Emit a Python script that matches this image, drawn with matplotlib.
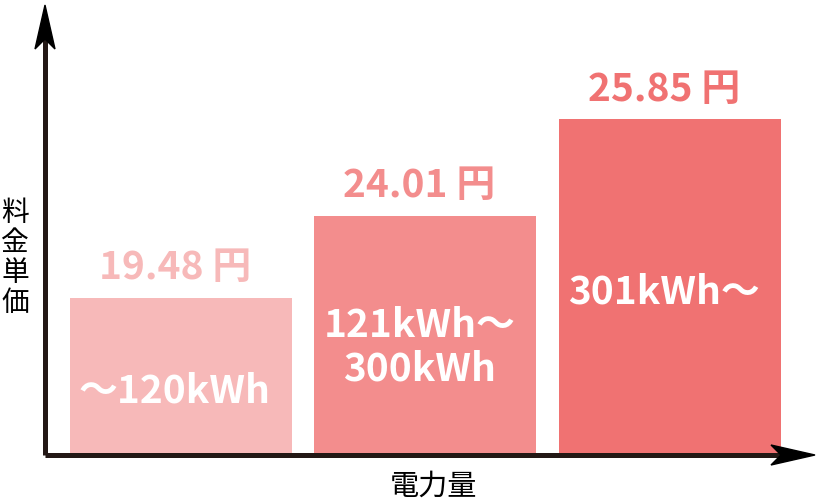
import matplotlib
matplotlib.use("Agg")
import matplotlib.pyplot as plt
from matplotlib.patches import Polygon

plt.rcParams['font.family'] = ['Noto Sans CJK JP', 'DejaVu Sans']

# Data
categories = ["〜120kWh", "121kWh〜\n300kWh", "301kWh〜"]
prices = [19.48, 24.01, 25.85]          # 円 per kWh
bar_heights = [157, 239, 336]           # displayed heights (chart not to scale)
label_frac = [0.41, 0.45, 0.485]        # inner label vertical position (fraction of bar)
colors = ["#F7B9B9", "#F38D8D", "#F07272"]
axis_color = "#231815"
y_label = "料金単価"
x_label = "電力量"

W, H = 828, 501
fig = plt.figure(figsize=(W / 100, H / 100), dpi=100)
ax_l, ax_r, ax_b, ax_t = 45, 815, 455, 5
ax = fig.add_axes([ax_l / W, (H - ax_b) / H, (ax_r - ax_l) / W, (ax_b - ax_t) / H])
ax.set_xlim(-0.556, 2.593)
ax.set_ylim(0, 450)
ax.axis("off")

x = list(range(len(categories)))
ax.bar(x, bar_heights, width=0.908, color=colors, zorder=1)

for xi, h, p, c, cat, f in zip(x, bar_heights, prices, colors, categories, label_frac):
    ax.text(xi - 0.025, h + 30, f"{p:.2f} 円", ha="center", va="center",
            fontsize=28, fontweight="bold", color=c, zorder=3)
    ax.text(xi - 0.025, h * f, cat, ha="center", va="center", fontsize=28,
            fontweight="bold", color="white", linespacing=1.15, zorder=3)

# Axes lines with arrows
lw = 3.6
ax.plot([0, 0], [0, 0.93], transform=ax.transAxes, color=axis_color, lw=lw,
        solid_capstyle="butt", clip_on=False, zorder=4)
ax.plot([0, 0.96], [0, 0], transform=ax.transAxes, color=axis_color, lw=lw,
        solid_capstyle="butt", clip_on=False, zorder=4)

aw, ah = ax_r - ax_l, ax_b - ax_t
hw, hl, hn = 10, 44, 34
yhead = Polygon([(0, 1), (-hw / aw, 1 - hl / ah), (0, 1 - hn / ah), (hw / aw, 1 - hl / ah)],
                closed=True, transform=ax.transAxes, color="black", clip_on=False, zorder=5)
xhead = Polygon([(1, 0), (1 - hl / aw, hw / ah), (1 - hn / aw, 0), (1 - hl / aw, -hw / ah)],
                closed=True, transform=ax.transAxes, color="black", clip_on=False, zorder=5)
ax.add_patch(yhead)
ax.add_patch(xhead)

# Axis labels
fig.text(15 / W, 1 - 258 / H, "\n".join(y_label), ha="center", va="center",
         fontsize=20, color="black", linespacing=1.0)
fig.text(433 / W, 1 - 487 / H, x_label, ha="center", va="center",
         fontsize=21, color="black")

fig.savefig("out.png", dpi=100)
